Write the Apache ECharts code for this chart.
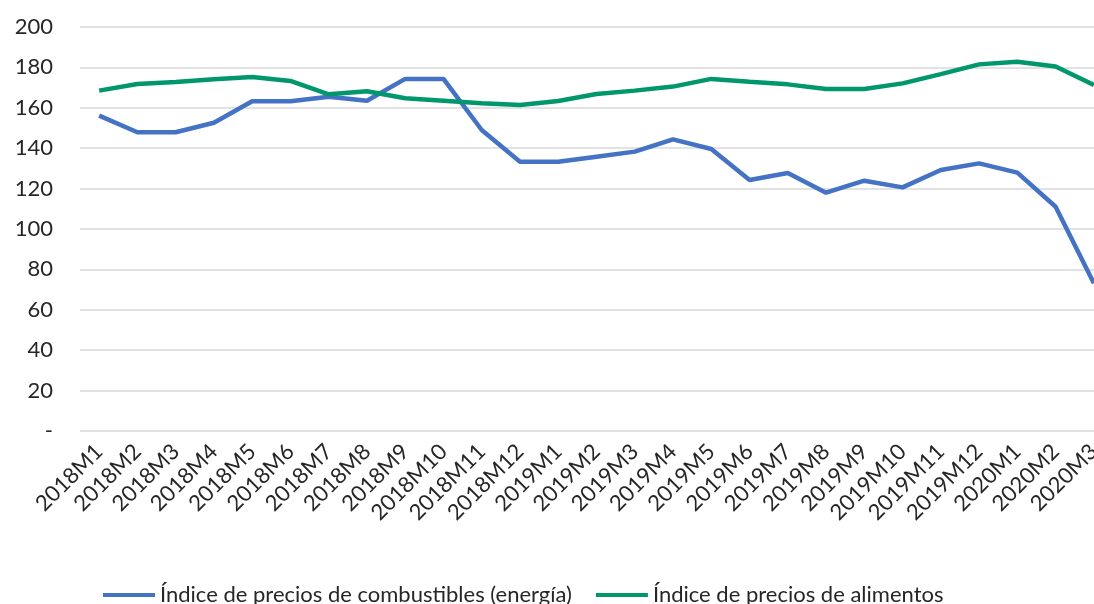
<!DOCTYPE html>
<html>
<head>
<meta charset="utf-8">
<script src="https://cdn.jsdelivr.net/npm/echarts@6/dist/echarts.min.js"></script>
<style>html,body{margin:0;padding:0;background:#fff}#c{width:1094px;height:604px}</style>
</head>
<body>
<div id="c"></div>
<script>
var categories = ['2018M1','2018M2','2018M3','2018M4','2018M5','2018M6','2018M7','2018M8','2018M9','2018M10','2018M11','2018M12',
  '2019M1','2019M2','2019M3','2019M4','2019M5','2019M6','2019M7','2019M8','2019M9','2019M10','2019M11','2019M12',
  '2020M1','2020M2','2020M3'];
var energia = [156.1,147.9,147.9,152.6,163.2,163.2,165.5,163.5,174.3,174.3,149,133.3,
  133.3,135.8,138.3,144.4,139.6,124.3,127.7,118,123.9,120.6,129.2,132.5,
  127.9,111,73.1];
var alimentos = [168.5,171.8,172.8,174.1,175.2,173.3,166.7,168.2,164.7,163.5,162.2,161.4,
  163.4,166.8,168.5,170.5,174.3,172.9,171.6,169.3,169.3,172.1,176.7,181.5,
  182.8,180.4,171.3];
var seriesNames = ['Índice de precios de combustibles (energía)','Índice de precios de alimentos'];
var yTicks = {min:0, max:200, interval:20};

var font = 'Lato, "Noto Sans", sans-serif';
var chart = echarts.init(document.getElementById('c'));
chart.setOption({
  animation:false,
  grid:{left:80, width:1033, top:27, height:404, containLabel:false, outerBoundsMode:'none'},
  legend:{
    left:98, top:579, itemWidth:52, itemHeight:4, itemGap:24,
    icon:'rect',
    textStyle:{fontFamily:font, fontSize:22, color:'#262626'},
    data:seriesNames
  },
  xAxis:{
    type:'category', data:categories, boundaryGap:true,
    axisLine:{show:false}, axisTick:{show:false},
    axisLabel:{rotate:45, interval:0, margin:17, fontFamily:font, fontSize:22, color:'#262626'}
  },
  yAxis:{
    type:'value', min:yTicks.min, max:yTicks.max, interval:yTicks.interval,
    axisLine:{show:false}, axisTick:{show:false},
    splitLine:{lineStyle:{color:'#d9d9d9', width:1.5}},
    axisLabel:{margin:27, fontFamily:font, fontSize:22, color:'#262626',
      formatter:function(v){return v===0?'-':String(v);}}
  },
  series:[
    {name:seriesNames[0], type:'line', data:energia, symbol:'none', lineStyle:{color:'#4472C4', width:4.5}, itemStyle:{color:'#4472C4'}},
    {name:seriesNames[1], type:'line', data:alimentos, symbol:'none', lineStyle:{color:'#00976C', width:4.5}, itemStyle:{color:'#00976C'}}
  ]
});
</script>
</body>
</html>
